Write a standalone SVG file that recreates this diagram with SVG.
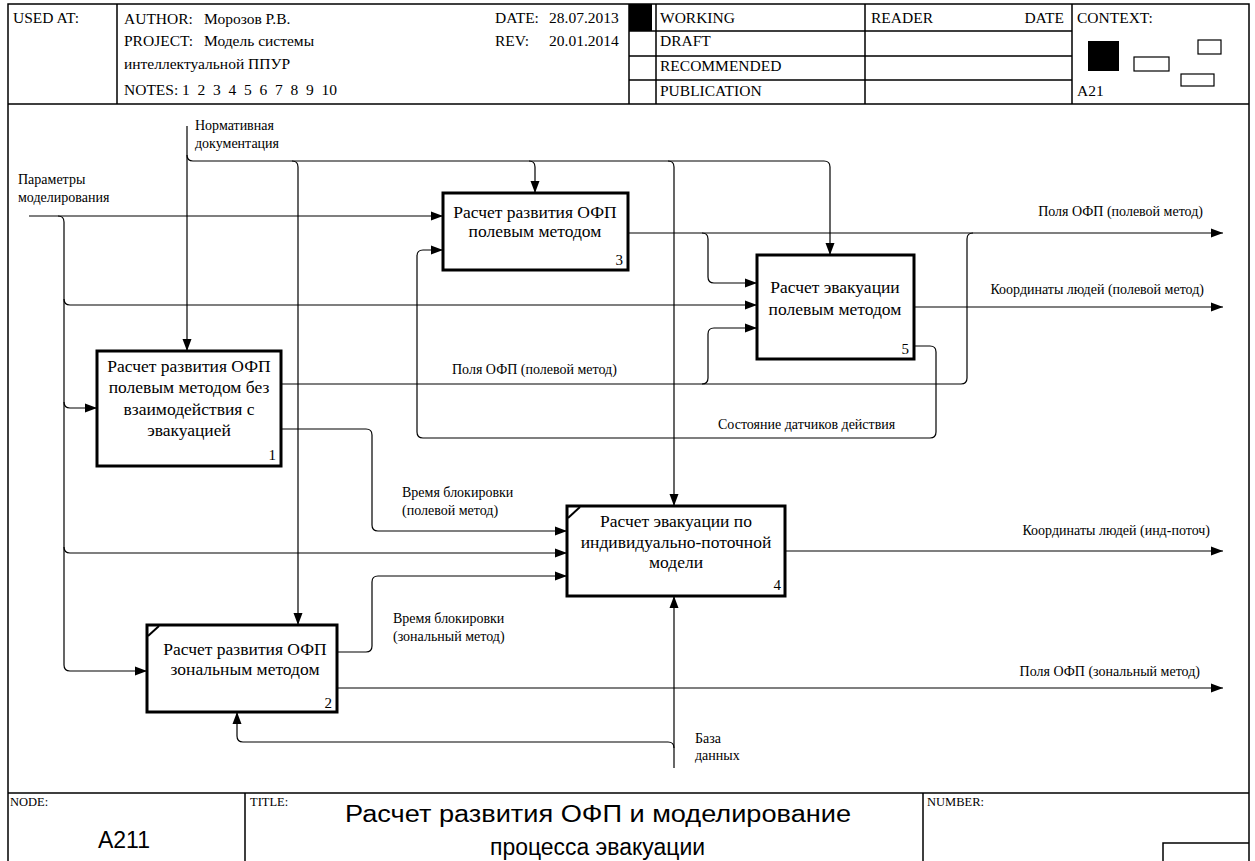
<svg xmlns="http://www.w3.org/2000/svg" width="1255" height="861" viewBox="0 0 1255 861">
<defs>
<marker id="ah" markerUnits="userSpaceOnUse" markerWidth="12" markerHeight="10" viewBox="0 0 12 10" refX="12" refY="5" orient="auto"><path d="M0,0.5 L12,5 L0,9.5 z" fill="#000"/></marker>
</defs>
<style>
.fl{fill:none;stroke:#000;stroke-width:1.5}
.hd{font-family:"Liberation Serif",serif;font-size:15.5px;fill:#000}
.bx{fill:#fff;stroke:#000;stroke-width:3}
.tk{stroke:#000;stroke-width:2}
.bt{font-family:"Liberation Serif",serif;font-size:17.5px;text-anchor:middle;fill:#000}
.num{font-family:"Liberation Serif",serif;font-size:15px;text-anchor:end;fill:#000}
.c{fill:none;stroke:#000;stroke-width:1.2}
.a{marker-end:url(#ah)}
.lb{font-family:"Liberation Serif",serif;font-size:14px;fill:#000}
.r{text-anchor:end}
.ft{font-family:"Liberation Serif",serif;font-size:12.5px;fill:#000}
.tt{font-family:"Liberation Sans",Arial,sans-serif;font-size:23px;fill:#000}
</style>
<rect x="0" y="0" width="1255" height="861" fill="#fff"/>
<g id="frame">
<path class="fl" d="M8,870 V4 H1249 V870"/>
<path class="fl" d="M8,104 H1249 M117,4 V104 M629,4 V104 M656,4 V104 M865,4 V104 M1072,4 V104 M629,31 H1072 M629,56 H1072 M629,80 H1072"/>
<rect x="629" y="4" width="23" height="27" fill="#000"/>
<rect x="1088" y="41" width="31" height="30" fill="#000"/>
<rect x="1134" y="57" width="35" height="14" fill="none" stroke="#000" stroke-width="1.2"/>
<rect x="1198" y="40" width="23" height="14" fill="none" stroke="#000" stroke-width="1.2"/>
<rect x="1181" y="74" width="33" height="12" fill="none" stroke="#000" stroke-width="1.2"/>
<path class="fl" d="M8,793 H1249 M245,793 V870 M923,793 V870 M1163,870 V843 H1249"/>
<text class="hd" x="13" y="23">USED AT:</text>
<text class="hd" x="124" y="24">AUTHOR:</text>
<text class="hd" x="204" y="24">Морозов Р.В.</text>
<text class="hd" x="124" y="46">PROJECT:</text>
<text class="hd" x="204" y="46">Модель системы</text>
<text class="hd" x="124" y="69">интеллектуальной ППУР</text>
<text class="hd" x="124" y="95">NOTES:</text>
<text class="hd" x="182" y="95" xml:space="preserve" textLength="155">1  2  3  4  5  6  7  8  9  10</text>
<text class="hd" x="495" y="23">DATE:</text>
<text class="hd" x="549" y="23">28.07.2013</text>
<text class="hd" x="495" y="46">REV:</text>
<text class="hd" x="549" y="46">20.01.2014</text>
<text class="hd" x="660" y="23">WORKING</text>
<text class="hd" x="660" y="46">DRAFT</text>
<text class="hd" x="660" y="71">RECOMMENDED</text>
<text class="hd" x="660" y="96">PUBLICATION</text>
<text class="hd" x="871" y="23">READER</text>
<text class="hd" x="1064" y="23" text-anchor="end">DATE</text>
<text class="hd" x="1077" y="23">CONTEXT:</text>
<text class="hd" x="1077" y="96">A21</text>
<text class="ft" x="10" y="806">NODE:</text>
<text class="ft" x="250" y="806">TITLE:</text>
<text class="ft" x="927" y="806">NUMBER:</text>
<text class="tt" x="124" y="848" text-anchor="middle">A211</text>
<text class="tt" x="345" y="822" textLength="506" lengthAdjust="spacingAndGlyphs">Расчет развития ОФП и моделирование</text>
<text class="tt" x="490" y="855" textLength="215" lengthAdjust="spacingAndGlyphs">процесса эвакуации</text>
</g>
<g id="connectors">
<path class="c a" d="M29,216 H443"/>
<path class="c a" d="M58,216 q6,0 6,6 V665 q0,6 6,6 H147"/>
<path class="c a" d="M64,299 q0,6 6,6 H757"/>
<path class="c a" d="M64,402 q0,6 6,6 H97"/>
<path class="c a" d="M64,547 q0,6 6,6 H567"/>
<path class="c a" d="M187,126 V351"/>
<path class="c a" d="M187,155 q0,6 6,6 H824 q6,0 6,6 V255"/>
<path class="c a" d="M292,161 q6,0 6,6 V625"/>
<path class="c a" d="M529,161 q6,0 6,6 V193"/>
<path class="c a" d="M668,161 q6,0 6,6 V506"/>
<path class="c a" d="M628,233 H1223"/>
<path class="c a" d="M702,233 q6,0 6,6 V277 q0,6 6,6 H757"/>
<path class="c" d="M281,384 H961 q6,0 6,-6 V239 q0,-6 6,-6"/>
<path class="c a" d="M702,384 q6,0 6,-6 V334 q0,-6 6,-6 H757"/>
<path class="c a" d="M281,429 H366 q6,0 6,6 V525 q0,6 6,6 H567"/>
<path class="c a" d="M914,346 H930 q6,0 6,6 V432 q0,6 -6,6 H423 q-6,0 -6,-6 V256 q0,-6 6,-6 H443"/>
<path class="c a" d="M914,307 H1223"/>
<path class="c a" d="M337,652 H366 q6,0 6,-6 V582 q0,-6 6,-6 H567"/>
<path class="c a" d="M337,688 H1223"/>
<path class="c a" d="M785,551 H1223"/>
<path class="c a" d="M674,768 V596"/>
<path class="c a" d="M674,748 q0,-6 -6,-6 H243 q-6,0 -6,-6 V712"/>
<text class="lb" x="18" y="184">Параметры</text>
<text class="lb" x="18" y="202">моделирования</text>
<text class="lb" x="195" y="130">Нормативная</text>
<text class="lb" x="195" y="148">документация</text>
<text class="lb r" x="1203" y="216">Поля ОФП (полевой метод)</text>
<text class="lb r" x="1204" y="294">Координаты людей (полевой метод)</text>
<text class="lb" x="452" y="374">Поля ОФП (полевой метод)</text>
<text class="lb" x="718" y="429">Состояние датчиков действия</text>
<text class="lb" x="402" y="497">Время блокировки</text>
<text class="lb" x="402" y="515">(полевой метод)</text>
<text class="lb r" x="1210" y="535">Координаты людей (инд-поточ)</text>
<text class="lb" x="393" y="623">Время блокировки</text>
<text class="lb" x="393" y="641">(зональный метод)</text>
<text class="lb r" x="1200" y="676">Поля ОФП (зональный метод)</text>
<text class="lb" x="695" y="743">База</text>
<text class="lb" x="695" y="760">данных</text>
</g>
<g id="node1">
<rect class="bx" x="97" y="351" width="184" height="115"/>
<text class="bt" x="189" y="372">Расчет развития ОФП</text>
<text class="bt" x="189" y="393">полевым методом без</text>
<text class="bt" x="189" y="415">взаимодействия с</text>
<text class="bt" x="189" y="436">эвакуацией</text>
<text class="num" x="276" y="460">1</text>
</g>
<g id="node2">
<rect class="bx" x="147" y="625" width="190" height="87"/>
<line class="tk" x1="148" y1="636" x2="159" y2="626"/>
<text class="bt" x="245" y="655">Расчет развития ОФП</text>
<text class="bt" x="245" y="675">зональным методом</text>
<text class="num" x="332" y="708">2</text>
</g>
<g id="node3">
<rect class="bx" x="443" y="193" width="185" height="77"/>
<text class="bt" x="535" y="218">Расчет развития ОФП</text>
<text class="bt" x="535" y="237">полевым методом</text>
<text class="num" x="623" y="265">3</text>
</g>
<g id="node4">
<rect class="bx" x="567" y="506" width="218" height="90"/>
<line class="tk" x1="568" y1="518" x2="580" y2="507"/>
<text class="bt" x="676" y="527">Расчет эвакуации по</text>
<text class="bt" x="676" y="548">индивидуально-поточной</text>
<text class="bt" x="676" y="568">модели</text>
<text class="num" x="781" y="590">4</text>
</g>
<g id="node5">
<rect class="bx" x="757" y="255" width="157" height="104"/>
<text class="bt" x="835" y="293">Расчет эвакуации</text>
<text class="bt" x="835" y="315">полевым методом</text>
<text class="num" x="909" y="354">5</text>
</g>
</svg>
